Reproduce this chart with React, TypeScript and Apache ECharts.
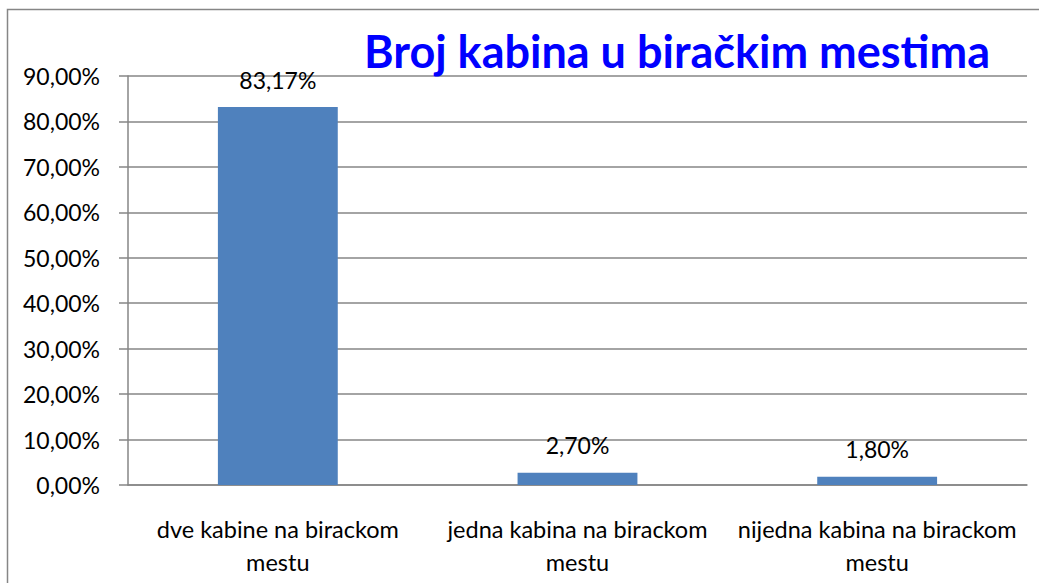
import React, { useEffect, useRef } from "react";
import * as echarts from "echarts";

const categories = [
  "dve kabine na birackom\nmestu",
  "jedna kabina na birackom\nmestu",
  "nijedna kabina na birackom\nmestu",
];
const values = [83.17, 2.7, 1.8];
const titleText = "Broj kabina u biračkim mestima";

const fmt = (v: number) => v.toFixed(2).replace(".", ",") + "%";

export default function App() {
  const ref = useRef<HTMLDivElement>(null);
  useEffect(() => {
    const chart = echarts.init(ref.current!, null, { renderer: "svg" });
    chart.setOption({
      animation: false,
      backgroundColor: "#ffffff",
      textStyle: { fontFamily: "Lato" },
      graphic: [
        {
          type: "rect",
          shape: { x: 7.5, y: 9.5, width: 1100, height: 700 },
          style: { fill: "none", stroke: "#868686", lineWidth: 1.5 },
          z: -10,
        },
        {
          type: "text",
          right: 49,
          top: 28,
          z: 100,
          style: {
            text: titleText,
            fill: "#0000ff",
            font: "bold 45px Lato",
          },
        },
      ],
      grid: { left: 128, right: 12, top: 76, bottom: 98 },
      xAxis: {
        type: "category",
        data: categories,
        axisLine: { lineStyle: { color: "#868686", width: 1.5 } },
        axisTick: { length: 7, lineStyle: { color: "#868686", width: 1.5 } },
        axisLabel: {
          color: "#000",
          fontSize: 23.5,
          lineHeight: 33,
          margin: 27,
          interval: 0,
          fontFamily: "Lato",
        },
      },
      yAxis: {
        type: "value",
        min: 0,
        max: 90,
        interval: 10,
        axisLine: { show: true, lineStyle: { color: "#868686", width: 1.5 } },
        axisTick: { show: true, length: 9, lineStyle: { color: "#868686", width: 1.5 } },
        splitLine: { lineStyle: { color: "#868686", width: 1.5 } },
        axisLabel: {
          color: "#000",
          fontSize: 23,
          margin: 28,
          formatter: (v: number) => fmt(v),
          fontFamily: "Lato",
        },
      },
      series: [
        {
          type: "bar",
          data: values,
          barWidth: "40%",
          itemStyle: { color: "#4f81bd" },
          label: {
            show: true,
            position: "top",
            distance: 16,
            color: "#000",
            fontSize: 23,
            fontFamily: "Lato",
            formatter: (p: any) => fmt(p.value),
          },
        },
      ],
    });
    return () => chart.dispose();
  }, []);
  return (
    <div
      ref={ref}
      style={{ position: "fixed", left: 0, top: 0, width: 1039, height: 583 }}
    />
  );
}
